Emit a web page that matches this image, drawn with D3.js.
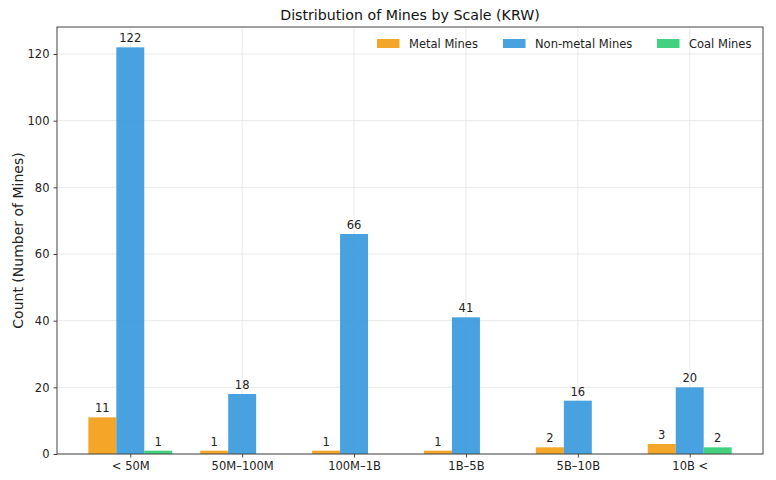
<!DOCTYPE html>
<html>
<head>
<meta charset="utf-8">
<script src="https://cdn.jsdelivr.net/npm/d3@7"></script>
<style>
  body { margin: 0; background: #fff; }
  svg { font-family: "DejaVu Sans", sans-serif; }
  .grid line { stroke: #e3e3e3; stroke-width: 0.8; }
</style>
</head>
<body>
<div id="chart"></div>
<script>
const WIDTH = 776;
const HEIGHT = 480;

// data
const categories = ['< 50M', '50M–100M', '100M–1B', '1B–5B', '5B–10B', '10B <'];
const seriesNames = ['Metal Mines', 'Non-metal Mines', 'Coal Mines'];
const metalMines = [11, 1, 1, 1, 2, 3];
const nonMetalMines = [122, 18, 66, 41, 16, 20];
const coalMines = [1, 0, 0, 0, 0, 2];
const yTicks = [0, 20, 40, 60, 80, 100, 120];

// flat ui colours drawn at 0.9 alpha, the grid shows through a little
const colors = ['#f39c12', '#3498db', '#2ecc71'];
const allSeries = [metalMines, nonMetalMines, coalMines];

const margin = { top: 27, right: 13, bottom: 26, left: 57 };
const width = WIDTH - margin.left - margin.right;
const height = HEIGHT - margin.top - margin.bottom;

const svg = d3.select('#chart').append('svg')
    .attr('width', WIDTH)
    .attr('height', HEIGHT);

const g = svg.append('g')
    .attr('transform', `translate(${margin.left},${margin.top})`);

// numeric x like matplotlib: index positions, bars 0.25 wide
const x = d3.scaleLinear()
    .domain([-0.655, categories.length - 1 + 0.655])
    .range([0, width]);

const yMax = d3.max(nonMetalMines) * 1.05;
const y = d3.scaleLinear()
    .domain([0, yMax])
    .range([height, 0]);

const barW = 0.25;

// grid
const grid = g.append('g').attr('class', 'grid');
grid.selectAll('.hg').data(yTicks).enter().append('line')
    .attr('x1', 0).attr('x2', width)
    .attr('y1', d => y(d)).attr('y2', d => y(d));
grid.selectAll('.vg').data(categories).enter().append('line')
    .attr('y1', 0).attr('y2', height)
    .attr('x1', (d, i) => x(i)).attr('x2', (d, i) => x(i));

// bars + value labels
allSeries.forEach((vals, s) => {
    const off = (s - 1) * barW;
    const grp = g.append('g');
    grp.selectAll('rect').data(vals).enter().append('rect')
        .attr('x', (d, i) => x(i + off - barW / 2))
        .attr('width', x(barW) - x(0))
        .attr('y', d => y(d))
        .attr('height', d => y(0) - y(d))
        .attr('fill', colors[s])
        .attr('fill-opacity', 0.9);

    const labelData = vals.map((v, i) => ({ v, i })).filter(d => d.v > 0);
    grp.selectAll('text').data(labelData).enter().append('text')
        .attr('x', d => x(d.i + off))
        .attr('y', d => y(d.v) - 5)
        .attr('text-anchor', 'middle')
        .attr('font-size', 11.5)
        .attr('fill', '#222')
        .text(d => d.v);
});

// axes
const xAxis = d3.axisBottom(x)
    .tickValues(d3.range(categories.length))
    .tickFormat(i => categories[i])
    .tickSizeOuter(0)
    .tickSize(3.5)
    .tickPadding(4);
const yAxis = d3.axisLeft(y)
    .tickValues(yTicks)
    .tickSizeOuter(0)
    .tickSize(3.5)
    .tickPadding(4);

const gx = g.append('g').attr('transform', `translate(0,${height})`).call(xAxis);
const gy = g.append('g').call(yAxis);
[gx, gy].forEach(ax => {
    ax.select('.domain').remove();
    ax.selectAll('text').attr('font-size', 11.5).attr('fill', '#222')
        .attr('font-family', '"DejaVu Sans", sans-serif');
    ax.selectAll('line').attr('stroke', '#444');
});

// frame
g.append('rect')
    .attr('width', width).attr('height', height)
    .attr('fill', 'none')
    .attr('stroke', '#444')
    .attr('stroke-width', 1);

// title & axis label
svg.append('text')
    .attr('x', margin.left + width / 2)
    .attr('y', 19.5)
    .attr('text-anchor', 'middle')
    .attr('font-size', 14.2)
    .attr('fill', '#111')
    .text('Distribution of Mines by Scale (KRW)');

svg.append('text')
    .attr('transform', `translate(23,${margin.top + height / 2}) rotate(-90)`)
    .attr('text-anchor', 'middle')
    .attr('font-size', 14)
    .attr('fill', '#222')
    .text('Count (Number of Mines)');

// legend
const legendX = [377, 503, 657];
const leg = svg.append('g');
seriesNames.forEach((name, s) => {
    leg.append('rect')
        .attr('x', legendX[s]).attr('y', 39)
        .attr('width', 22.5).attr('height', 9)
        .attr('fill', colors[s])
        .attr('fill-opacity', 0.9);
    leg.append('text')
        .attr('x', legendX[s] + 32).attr('y', 48)
        .attr('font-size', 11.5)
        .attr('fill', '#222')
        .text(name);
});
</script>
</body>
</html>
